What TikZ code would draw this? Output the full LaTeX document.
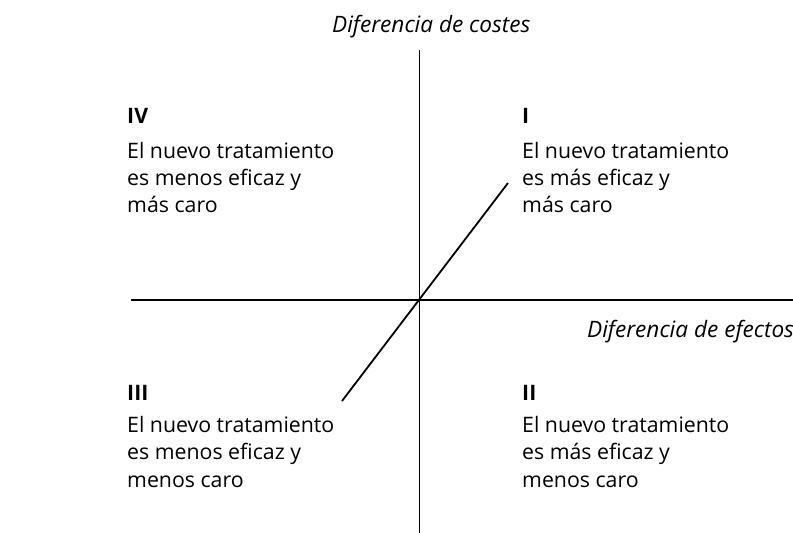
\documentclass[tikz,border=0pt]{standalone}
\usepackage{fontspec}
\setmainfont{Open Sans}
\begin{document}
\begin{tikzpicture}[x=1pt,y=-1pt,
  txt/.style={anchor=base west,inner sep=0pt,font=\fontsize{21.3}{27}\selectfont},
  num/.style={anchor=base west,inner sep=0pt,font=\fontsize{21.3}{27}\selectfont\bfseries},
  axlab/.style={inner sep=0pt,font=\fontsize{22.6}{27}\selectfont\itshape},
  axis/.style={line width=1.5pt},
  diag/.style={line width=1.8pt}]
\useasboundingbox (0,0) rectangle (793,533);
% axes
\coordinate (O) at (419.5,300);
\coordinate (ytop) at (419.5,50);
\coordinate (ybot) at (419.5,533);
\coordinate (xl) at (131,300);
\coordinate (xr) at (793,300);
\coordinate (d1) at (342,401);
\coordinate (d2) at (508,183);
\draw[axis] (xl) -- (xr);
\draw[axis] (ytop) -- (ybot);
\draw[diag] (d1) -- (d2);
% axis labels
\node[axlab,anchor=base west] (ylab) at (332,32) {Diferencia de costes};
\node[axlab,anchor=base west] (xlab) at (587,337) {Diferencia de efectos};
% quadrant IV
\node[num] (n4) at (127,123) {IV};
\node[txt] (q4a) at (127,158) {El nuevo tratamiento};
\node[txt] (q4b) at (127,185) {es menos eficaz y};
\node[txt] (q4c) at (127,212) {más caro};
% quadrant I
\node[num] (n1) at (522,123) {I};
\node[txt] (q1a) at (522,158) {El nuevo tratamiento};
\node[txt] (q1b) at (522,185) {es más eficaz y};
\node[txt] (q1c) at (522,212) {más caro};
% quadrant III
\node[num] (n3) at (127,400) {III};
\node[txt] (q3a) at (127,432) {El nuevo tratamiento};
\node[txt] (q3b) at (127,459) {es menos eficaz y};
\node[txt] (q3c) at (127,487) {menos caro};
% quadrant II
\node[num] (n2) at (522,400) {II};
\node[txt] (q2a) at (522,432) {El nuevo tratamiento};
\node[txt] (q2b) at (522,459) {es más eficaz y};
\node[txt] (q2c) at (522,487) {menos caro};
\end{tikzpicture}
\end{document}
